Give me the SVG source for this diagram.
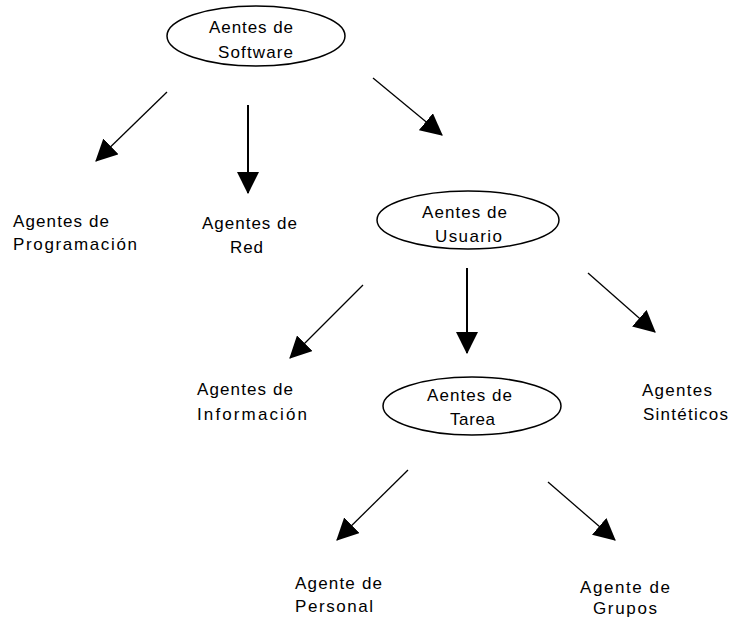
<svg xmlns="http://www.w3.org/2000/svg" width="731" height="620" viewBox="0 0 731 620">
<style>
text{font-family:"Liberation Sans",Arial,sans-serif;font-size:17px;fill:#000}
ellipse{fill:#fff;stroke:#000;stroke-width:1.5}
.c line{stroke:#000;stroke-width:1.3;marker-end:url(#ah)}
.c line.v{stroke-width:2}
</style>
<defs>
<marker id="ah" markerUnits="userSpaceOnUse" markerWidth="22" markerHeight="22" viewBox="0 0 20 20" refX="19" refY="10" orient="auto">
<path d="M0,0 L20,10 L0,20 z" fill="#000"/>
</marker>
</defs>
<rect width="731" height="620" fill="#fff"/>
<g id="n-software">
<ellipse cx="256" cy="36" rx="89" ry="30"/>
<text x="209" y="33" textLength="84" lengthAdjust="spacing">Aentes de</text>
<text x="218" y="58" textLength="75" lengthAdjust="spacing">Software</text>
</g>
<g id="n-programacion">
<text x="13" y="227" textLength="96" lengthAdjust="spacing">Agentes de</text>
<text x="13" y="250" textLength="124" lengthAdjust="spacing">Programación</text>
</g>
<g id="n-red">
<text x="202" y="229" textLength="95" lengthAdjust="spacing">Agentes de</text>
<text x="230" y="253" textLength="33" lengthAdjust="spacing">Red</text>
</g>
<g id="n-usuario">
<ellipse cx="468" cy="220" rx="91" ry="29"/>
<text x="422" y="218" textLength="85" lengthAdjust="spacing">Aentes de</text>
<text x="435" y="242" textLength="67" lengthAdjust="spacing">Usuario</text>
</g>
<g id="n-informacion">
<text x="197" y="395" textLength="96" lengthAdjust="spacing">Agentes de</text>
<text x="197" y="420" textLength="110" lengthAdjust="spacing">Información</text>
</g>
<g id="n-tarea">
<ellipse cx="472" cy="406" rx="89" ry="29"/>
<text x="427" y="401" textLength="85" lengthAdjust="spacing">Aentes de</text>
<text x="450" y="425" textLength="45" lengthAdjust="spacing">Tarea</text>
</g>
<g id="n-sinteticos">
<text x="642" y="396" textLength="70" lengthAdjust="spacing">Agentes</text>
<text x="643" y="420" textLength="85" lengthAdjust="spacing">Sintéticos</text>
</g>
<g id="n-personal">
<text x="295" y="589" textLength="87" lengthAdjust="spacing">Agente de</text>
<text x="295" y="612" textLength="78" lengthAdjust="spacing">Personal</text>
</g>
<g id="n-grupos">
<text x="580" y="593" textLength="90" lengthAdjust="spacing">Agente de</text>
<text x="593" y="614" textLength="64" lengthAdjust="spacing">Grupos</text>
</g>
<g id="connectors" class="c">
<line x1="167" y1="92" x2="96" y2="161"/>
<line class="v" x1="248" y1="105" x2="248" y2="193"/>
<line x1="373" y1="78" x2="442" y2="135"/>
<line x1="363" y1="285" x2="290" y2="358"/>
<line class="v" x1="467" y1="268" x2="467" y2="353"/>
<line x1="588" y1="273" x2="655" y2="332"/>
<line x1="408" y1="470" x2="337" y2="540"/>
<line x1="548" y1="482" x2="615" y2="540"/>
</g>
</svg>
